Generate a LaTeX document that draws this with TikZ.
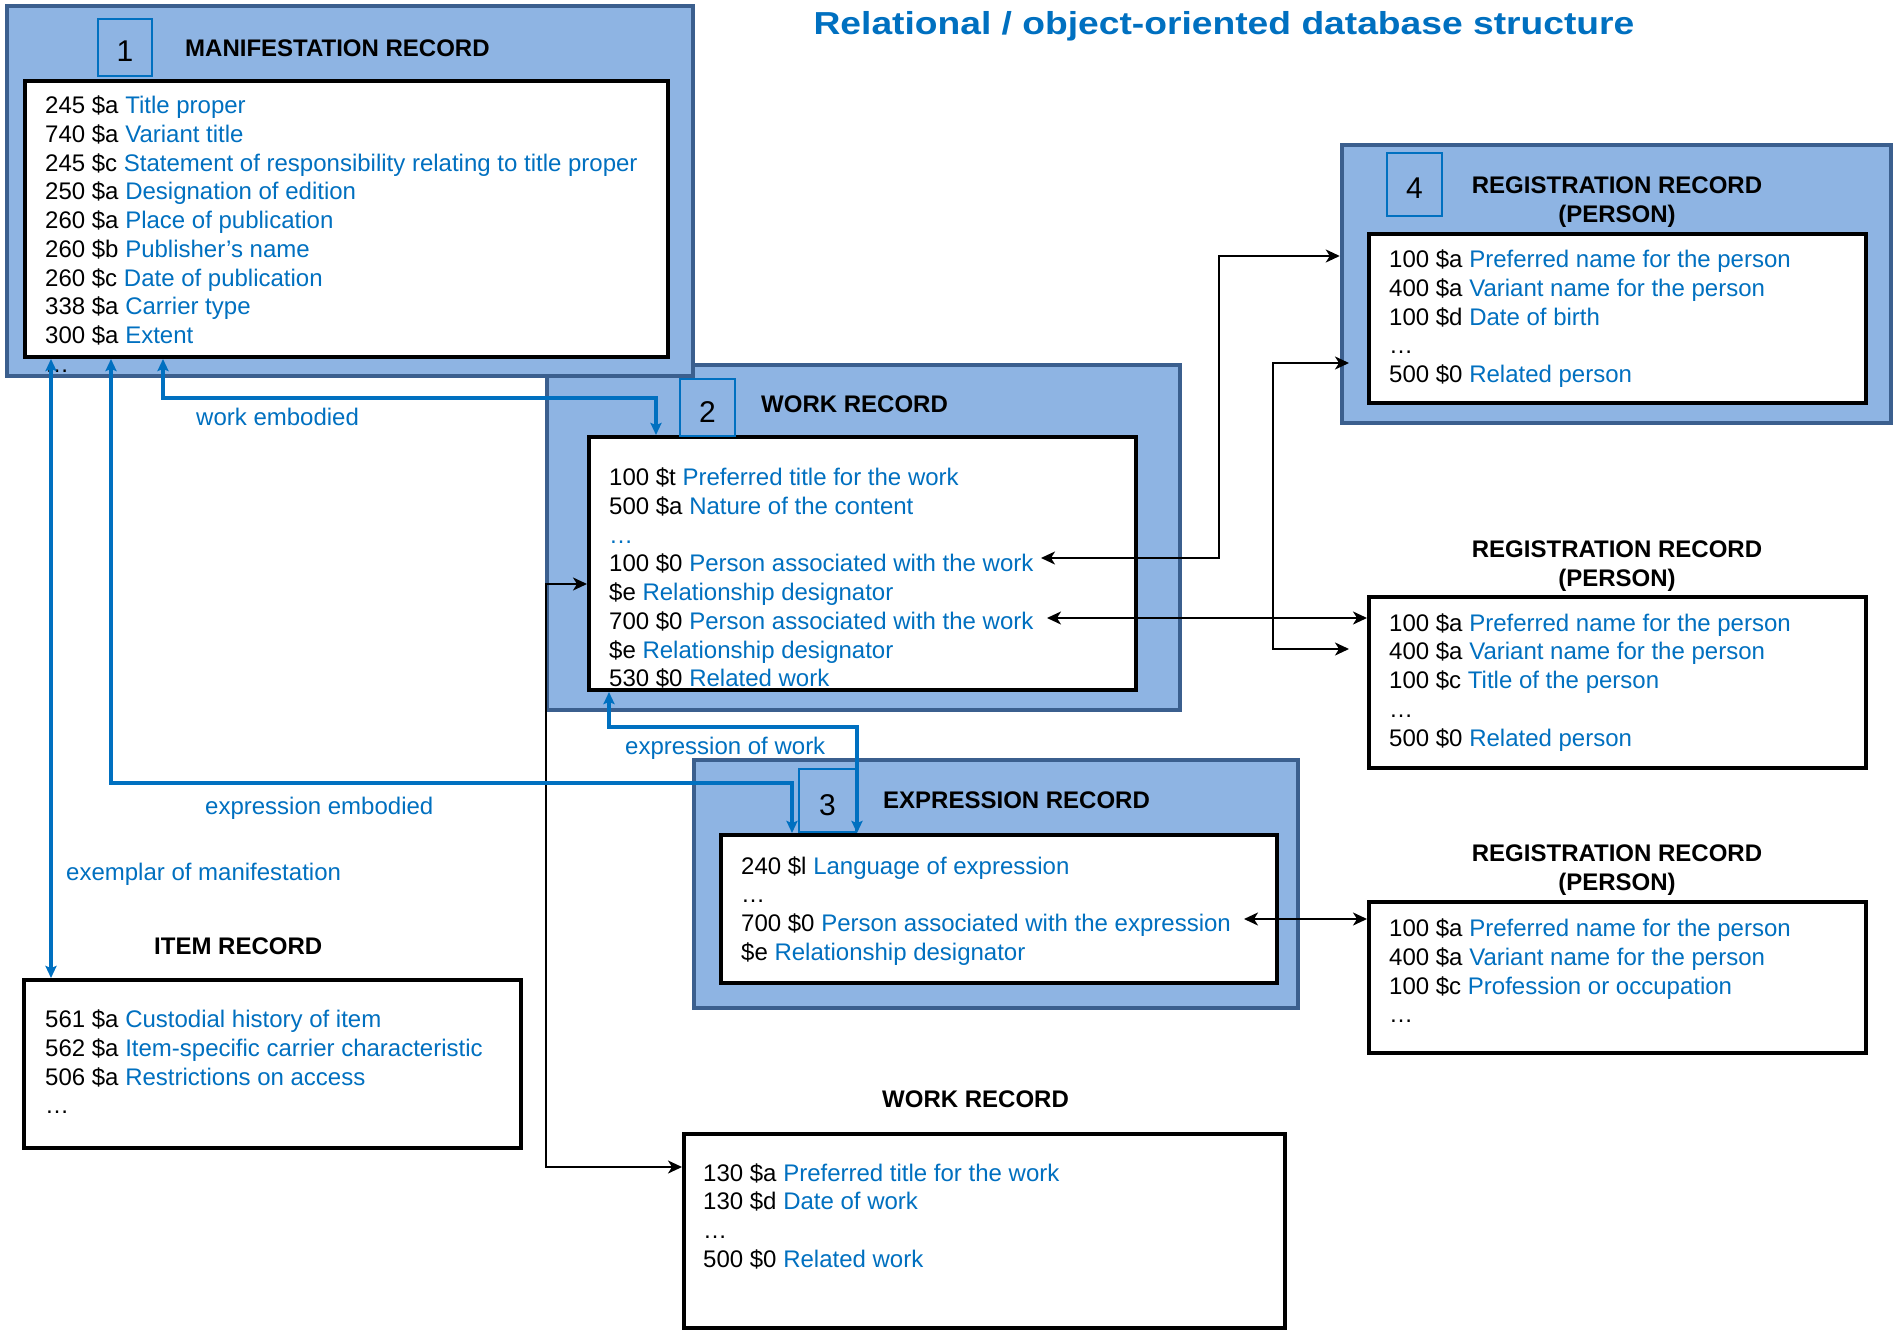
\documentclass[tikz,border=0pt]{standalone}
\usepackage{fontspec}
\setmainfont{Liberation Sans}
\usepackage{graphicx}
\usetikzlibrary{arrows.meta}
\definecolor{obfill}{HTML}{8EB4E3}
\definecolor{obline}{HTML}{3B5F8E}
\definecolor{tblue}{HTML}{0070C0}
\newcommand{\bl}[1]{\textcolor{tblue}{#1}}
\newcommand{\rbox}[6]{\node[#2, minimum width={(#5)-(#3)}, minimum height={(#6)-(#4)}] (#1) at ({((#3)+(#5))/2},{((#4)+(#6))/2}) {};}
\begin{document}
\begin{tikzpicture}[x=1pt,y=-1pt,
 outerbox/.style={draw=obline, fill=obfill, line width=4.5pt, inner sep=0pt},
 whitebox/.style={draw=black, fill=white, line width=4pt, inner sep=0pt},
 numbox/.style={draw=tblue, line width=2pt, inner sep=0pt, font=\fontsize{30}{36}\selectfont, text height=29pt, text depth=0pt},
 body/.style={anchor=north west, inner sep=0pt, align=left, font=\fontsize{24}{28.75}\selectfont},
 head/.style={anchor=base west, inner sep=0pt, font=\fontsize{24}{28.75}\selectfont\bfseries},
 head2/.style={anchor=north, inner sep=0pt, align=center, font=\fontsize{24}{28.5}\selectfont\bfseries},
 lbl/.style={anchor=base west, inner sep=0pt, text=tblue, font=\fontsize{24}{28.75}\selectfont},
 bcon/.style={draw=tblue, line width=4.6pt, {Stealth[length=12pt,width=11pt,inset=2pt]}-{Stealth[length=12pt,width=11pt,inset=2pt]}},
 kcon/.style={draw=black, line width=2pt, {Stealth[length=14pt,width=13pt,inset=4pt]}-{Stealth[length=14pt,width=13pt,inset=4pt]}},
]
\useasboundingbox (0,0) rectangle (1895,1332);
\fill[white] (0,0) rectangle (1895,1332);

% title
\node[anchor=base, inner sep=0pt, text=tblue] (title) at (1224,35) {\scalebox{1.17}[1]{\fontsize{31.8}{36}\selectfont\bfseries Relational / object-oriented database structure}};

% outer blue boxes
\rbox{wo}{outerbox}{547}{365}{1180}{710}
\rbox{eo}{outerbox}{694}{760}{1298}{1008}
\rbox{r4o}{outerbox}{1342}{145}{1891}{423}
\rbox{mo}{outerbox}{7}{6}{693}{376}

% white boxes
\rbox{mw}{whitebox}{25}{81}{668}{357}
\rbox{ww}{whitebox}{589}{437}{1136}{690}
\rbox{ew}{whitebox}{721}{835}{1277}{983}
\rbox{r4w}{whitebox}{1369}{234}{1866}{403}
\rbox{r2w}{whitebox}{1369}{597}{1866}{768}
\rbox{r3w}{whitebox}{1369}{902}{1866}{1053}
\rbox{iw}{whitebox}{24}{980}{521}{1148}
\rbox{bw}{whitebox}{684}{1134}{1285}{1328}

% number boxes
\node[numbox, minimum width=54, minimum height=57] (n1) at (125,47.5) {1};
\node[numbox, minimum width=55, minimum height=57] (n2) at (707.5,407.5) {2};
\node[numbox, minimum width=57, minimum height=63] (n3) at (827.5,800.5) {3};
\node[numbox, minimum width=55, minimum height=63] (n4) at (1414.5,184.5) {4};

% headings
\node[head] (hm) at (185,56.5) {MANIFESTATION RECORD};
\node[head] (hw) at (761,412) {WORK RECORD};
\node[head] (he) at (883,808.5) {EXPRESSION RECORD};
\node[head] (hi) at (154,954.5) {ITEM RECORD};
\node[head] (hb) at (882,1107.5) {WORK RECORD};
\node[head2] (h4) at (1617,173.5) {\strut REGISTRATION RECORD\\(PERSON)};
\node[head2] (h2) at (1617,537.5) {\strut REGISTRATION RECORD\\(PERSON)};
\node[head2] (h3) at (1617,841.5) {\strut REGISTRATION RECORD\\(PERSON)};

% body texts
\node[body] (mt) at (45,93.4) {\strut 245 \$a \bl{Title proper}\\
740 \$a \bl{Variant title}\\
245 \$c \bl{Statement of responsibility relating to title proper}\\
250 \$a \bl{Designation of edition}\\
260 \$a \bl{Place of publication}\\
260 \$b \bl{Publisher’s name}\\
260 \$c \bl{Date of publication}\\
338 \$a \bl{Carrier type}\\
300 \$a \bl{Extent}\\
…};
\node[body] (wt) at (609,465.4) {\strut 100 \$t \bl{Preferred title for the work}\\
500 \$a \bl{Nature of the content}\\
\bl{…}\\
100 \$0 \bl{Person associated with the work}\\
\$e \bl{Relationship designator}\\
700 \$0 \bl{Person associated with the work}\\
\$e \bl{Relationship designator}\\
530 \$0 \bl{Related work}};
\node[body] (et) at (741,853.9) {\strut 240 \$l \bl{Language of expression}\\
…\\
700 \$0 \bl{Person associated with the expression}\\
\$e \bl{Relationship designator}};
\node[body] (r4t) at (1389,247.4) {\strut 100 \$a \bl{Preferred name for the person}\\
400 \$a \bl{Variant name for the person}\\
100 \$d \bl{Date of birth}\\
…\\
500 \$0 \bl{Related person}};
\node[body] (r2t) at (1389,610.9) {\strut 100 \$a \bl{Preferred name for the person}\\
400 \$a \bl{Variant name for the person}\\
100 \$c \bl{Title of the person}\\
…\\
500 \$0 \bl{Related person}};
\node[body] (r3t) at (1389,916.4) {\strut 100 \$a \bl{Preferred name for the person}\\
400 \$a \bl{Variant name for the person}\\
100 \$c \bl{Profession or occupation}\\
…};
\node[body] (it) at (45,1007.4) {\strut 561 \$a \bl{Custodial history of item}\\
562 \$a \bl{Item-specific carrier characteristic}\\
506 \$a \bl{Restrictions on access}\\
…};
\node[body] (bt) at (703,1160.9) {\strut 130 \$a \bl{Preferred title for the work}\\
130 \$d \bl{Date of work}\\
…\\
500 \$0 \bl{Related work}};

% labels
\node[lbl] (lwe) at (196,425.5) {work embodied};
\node[lbl] (lee) at (205,814) {expression embodied};
\node[lbl] (lem) at (66,880.5) {exemplar of manifestation};
\node[lbl] (lew) at (625,754.5) {expression of work};

% thin black connectors
\coordinate (t1) at (1041,558);
\coordinate (t2) at (1047,618);
\coordinate (t3) at (1244,919);
\coordinate (ra) at (1349,649);
\coordinate (rb) at (1349,363);
\draw[kcon] (t1) -- (t1 -| 1219,0) |- (r4o.west |- 0,256);
\draw[kcon] (t2) -- (r2w.west |- t2);
\draw[kcon] (ra) -- (ra -| 1273,0) |- (rb);
\draw[kcon] (t3) -- (r3w.west |- t3);
\draw[kcon] (ww.west |- 0,584) -| (546,1167) -- (bw.west |- 0,1167);

% blue connectors
\draw[bcon] (mw.south -| 163,0) -- ++(0,39) -| (ww.north -| 656,0);
\draw[bcon] (mw.south -| 111,0) -- ++(0,424) -| (ew.north -| 792,0);
\draw[bcon] (mw.south -| 51,0) -- (iw.north -| 51,0);
\draw[bcon] (ww.south -| 609,0) -- ++(0,35) -| (ew.north -| 857,0);
\end{tikzpicture}
\end{document}
